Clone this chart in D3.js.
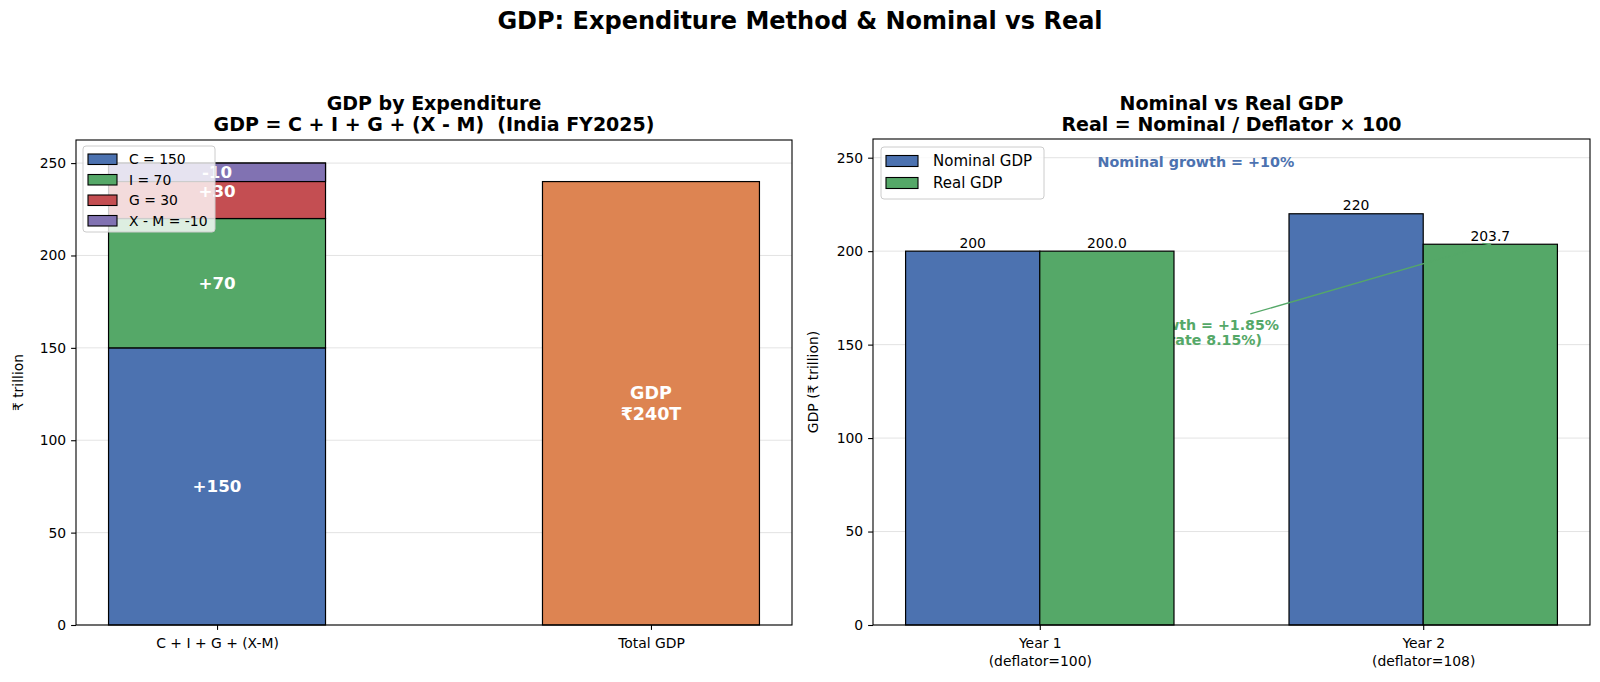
<!DOCTYPE html>
<html><head><meta charset="utf-8">
<script src="https://cdn.jsdelivr.net/npm/d3@7"></script>
<style>
body{margin:0;background:#fff}
svg{display:block;font-family:"DejaVu Sans",sans-serif}
</style>
</head><body>
<svg id="c" width="1600" height="682"></svg>
<script>
// ---------- data ----------
const expCategories = ["C + I + G + (X-M)", "Total GDP"];
const components = ["C", "I", "G", "X - M"];
const componentValues = [150, 70, 30, -10];
const componentLegend = ["C = 150", "I = 70", "G = 30", "X - M = -10"];
const totalGDP = 240;
const totalLabel = ["GDP", "₹240T"];
const leftTicks = [0, 50, 100, 150, 200, 250];

const years = [["Year 1", "(deflator=100)"], ["Year 2", "(deflator=108)"]];
const nominalGDP = [200, 220];
const realGDP = [200.0, 203.7];
const seriesNames = ["Nominal GDP", "Real GDP"];
const rightTicks = [0, 50, 100, 150, 200, 250];
const nominalNote = "Nominal growth = +10%";
const realNote = ["Real growth = +1.85%", "(inflation rate 8.15%)"];

// ---------- styles ----------
const BLUE = "#4c72b0", GREEN = "#55a868", RED = "#c44e52", PURPLE = "#8172b2", ORANGE = "#dd8452";
const compColors = [BLUE, GREEN, RED, PURPLE];

const svg = d3.select("#c");

svg.append("text").attr("x", 800).attr("y", 29).attr("text-anchor", "middle")
  .attr("font-size", 24).attr("font-weight", "bold").text("GDP: Expenditure Method & Nominal vs Real");

function axesFrame(g, x0, x1, y0, y1) {
  g.append("rect").attr("x", x0).attr("y", y0).attr("width", x1 - x0).attr("height", y1 - y0)
    .attr("fill", "none").attr("stroke", "#000").attr("stroke-width", 1.1);
}
function grid(g, ys, yScale, x0, x1) {
  g.append("g").selectAll("line").data(ys).join("line")
    .attr("x1", x0).attr("x2", x1).attr("y1", d => yScale(d)).attr("y2", d => yScale(d))
    .attr("stroke", "#b0b0b0").attr("stroke-opacity", 0.35).attr("stroke-width", 1);
}
function yAxis(g, yScale, ticks, x) {
  const a = g.append("g").attr("transform", `translate(${x},0)`)
    .call(d3.axisLeft(yScale).tickValues(ticks).tickSize(4.9).tickPadding(4.9).tickFormat(d3.format("d")));
  a.select(".domain").remove();
  a.selectAll("text").attr("font-size", 13.9).attr("fill", "#000").style("font-family", "DejaVu Sans");
  a.selectAll("line").attr("stroke", "#000").attr("stroke-width", 1.1);
}
function legend(g, x, y, w, h, items, fs, pitch, pw, ph, tx) {
  const lg = g.append("g");
  lg.append("rect").attr("x", x).attr("y", y).attr("width", w).attr("height", h).attr("rx", 3)
    .attr("fill", "#fff").attr("fill-opacity", 0.8).attr("stroke", "#cccccc").attr("stroke-width", 1);
  items.forEach((it, i) => {
    const cy = y + pitch * 0.5 + 2 + i * pitch + 1;
    lg.append("rect").attr("x", x + 5).attr("y", cy - ph / 2).attr("width", pw).attr("height", ph)
      .attr("fill", it.color).attr("stroke", "#000").attr("stroke-width", 1.1);
    lg.append("text").attr("x", x + tx).attr("y", cy).attr("dy", "0.35em").attr("font-size", fs).text(it.label);
  });
}

// ---------- left chart ----------
{
  const X0 = 76, X1 = 792, Y0 = 140, Y1 = 625;
  const g = svg.append("g");
  const x = d3.scaleLinear().domain([-0.325, 1.325]).range([X0, X1]);
  const y = d3.scaleLinear().domain([0, 262.5]).range([Y1, Y0]);
  const bw = 0.5;
  grid(g, leftTicks, y, X0, X1);

  let bottom = 0;
  const segs = componentValues.map((v, i) => {
    const s = { name: components[i], v, b: bottom, color: compColors[i] };
    bottom += v;
    return s;
  });
  g.append("g").selectAll("rect").data(segs).join("rect")
    .attr("x", x(0 - bw / 2)).attr("width", x(bw / 2) - x(-bw / 2))
    .attr("y", d => y(Math.max(d.b, d.b + d.v)))
    .attr("height", d => Math.abs(y(d.b) - y(d.b + d.v)))
    .attr("fill", d => d.color).attr("stroke", "#000").attr("stroke-width", 1.2);
  g.append("g").selectAll("text").data(segs).join("text")
    .attr("x", x(0)).attr("y", d => y(d.b + d.v / 2)).attr("dy", "0.36em")
    .attr("text-anchor", "middle").attr("fill", "#fff").attr("font-weight", "bold").attr("font-size", 16.7)
    .text(d => (d.v > 0 ? "+" : "") + d.v);

  g.append("rect").attr("x", x(1 - bw / 2)).attr("width", x(bw / 2) - x(-bw / 2))
    .attr("y", y(totalGDP)).attr("height", y(0) - y(totalGDP))
    .attr("fill", ORANGE).attr("stroke", "#000").attr("stroke-width", 1.2);
  const tl = g.append("text").attr("x", x(1)).attr("text-anchor", "middle").attr("fill", "#fff")
    .attr("font-weight", "bold").attr("font-size", 17.5);
  totalLabel.forEach((t, i) => tl.append("tspan").attr("x", x(1)).attr("y", y(totalGDP / 2) + (i - 0.5) * 21 + 6.5).text(t));

  yAxis(g, y, leftTicks, X0);
  const xa = g.append("g").attr("transform", `translate(0,${Y1})`)
    .call(d3.axisBottom(x).tickValues([0, 1]).tickSize(4.9).tickPadding(8).tickFormat(i => expCategories[i]));
  xa.select(".domain").remove();
  xa.selectAll("text").attr("font-size", 13.9).attr("fill", "#000").style("font-family", "DejaVu Sans");
  xa.selectAll("line").attr("stroke", "#000").attr("stroke-width", 1.1);

  g.append("text").attr("transform", `translate(18,${(Y0 + Y1) / 2}) rotate(-90)`).attr("dy", "0.35em")
    .attr("text-anchor", "middle").attr("font-size", 13.9).text("₹ trillion");

  const t = g.append("text").attr("text-anchor", "middle").attr("font-weight", "bold").attr("font-size", 19);
  t.append("tspan").attr("x", (X0 + X1) / 2).attr("y", 110).text("GDP by Expenditure");
  t.append("tspan").attr("x", (X0 + X1) / 2).attr("y", 131).attr("xml:space", "preserve").text("GDP = C + I + G + (X - M)  (India FY2025)");

  legend(g, 83, 146, 132, 86, componentLegend.map((l, i) => ({ label: l, color: compColors[i] })),
    13.9, 20.5, 29, 10.5, 46);
  axesFrame(g, X0, X1, Y0, Y1);
}

// ---------- right chart ----------
{
  const X0 = 873, X1 = 1590, Y0 = 139, Y1 = 625;
  const g = svg.append("g");
  const x = d3.scaleLinear().domain([-0.435, 1.435]).range([X0, X1]);
  const y = d3.scaleLinear().domain([0, 260]).range([Y1, Y0]);
  const w = 0.35;
  grid(g, rightTicks, y, X0, X1);
  const idx = years.map((_, i) => i);

  g.append("g").selectAll("rect").data(idx).join("rect")
    .attr("x", i => x(i - w)).attr("width", x(w) - x(0))
    .attr("y", i => y(nominalGDP[i])).attr("height", i => y(0) - y(nominalGDP[i]))
    .attr("fill", BLUE).attr("stroke", "#000").attr("stroke-width", 1.2);

  // annotation text (partly hidden behind the Year 1 real bar)
  const ann = g.append("text").attr("fill", GREEN).attr("font-weight", "bold").attr("font-size", 14.2).attr("text-anchor", "end");
  ann.append("tspan").attr("x", x(0.624)).attr("y", y(160.5)).attr("dy", "0.36em").text(realNote[0]);
  ann.append("tspan").attr("x", x(0.5795)).attr("y", y(152.5)).attr("dy", "0.36em").text(realNote[1]);

  g.append("g").selectAll("rect").data(idx).join("rect")
    .attr("x", i => x(i)).attr("width", x(w) - x(0))
    .attr("y", i => y(realGDP[i])).attr("height", i => y(0) - y(realGDP[i]))
    .attr("fill", GREEN).attr("stroke", "#000").attr("stroke-width", 1.2);

  // arrow
  const sx = x(0.549), sy = y(166.4), ex = x(1 + w / 2), ey = y(realGDP[1]);
  g.append("line").attr("x1", sx).attr("y1", sy).attr("x2", ex).attr("y2", ey)
    .attr("stroke", GREEN).attr("stroke-width", 1.3);
  const ang = Math.atan2(ey - sy, ex - sx);
  const hl = 8;
  g.append("path").attr("d",
    `M${ex - hl * Math.cos(ang - 0.4)},${ey - hl * Math.sin(ang - 0.4)}L${ex},${ey}L${ex - hl * Math.cos(ang + 0.4)},${ey - hl * Math.sin(ang + 0.4)}`)
    .attr("fill", "none").attr("stroke", GREEN).attr("stroke-width", 1.3);

  g.append("g").selectAll("text").data(idx).join("text")
    .attr("x", i => x(i - w / 2)).attr("y", i => y(nominalGDP[i]) - 3.5).attr("text-anchor", "middle")
    .attr("font-size", 13.9).text(i => String(nominalGDP[i]));
  g.append("g").selectAll("text").data(idx).join("text")
    .attr("x", i => x(i + w / 2)).attr("y", i => y(realGDP[i]) - 3.5).attr("text-anchor", "middle")
    .attr("font-size", 13.9).text(i => realGDP[i].toFixed(1));

  g.append("text").attr("x", x(0.407)).attr("y", y(247.7)).attr("dy", "0.36em").attr("text-anchor", "middle")
    .attr("fill", BLUE).attr("font-weight", "bold").attr("font-size", 14.3).text(nominalNote);

  yAxis(g, y, rightTicks, X0);
  const xa = g.append("g").attr("transform", `translate(0,${Y1})`)
    .call(d3.axisBottom(x).tickValues([0, 1]).tickSize(4.9).tickPadding(8).tickFormat(() => ""));
  xa.select(".domain").remove();
  xa.selectAll("line").attr("stroke", "#000").attr("stroke-width", 1.1);
  xa.selectAll(".tick").each(function (i) {
    const tt = d3.select(this).select("text").text(null).attr("font-size", 13.9).attr("fill", "#000")
      .style("font-family", "DejaVu Sans");
    years[i].forEach((line, k) => tt.append("tspan").attr("x", 0).attr("dy", k === 0 ? "0.71em" : "1.3em").text(line));
  });

  g.append("text").attr("transform", `translate(813,${(Y0 + Y1) / 2}) rotate(-90)`).attr("dy", "0.35em")
    .attr("text-anchor", "middle").attr("font-size", 13.9).text("GDP (₹ trillion)");

  const t = g.append("text").attr("text-anchor", "middle").attr("font-weight", "bold").attr("font-size", 19);
  t.append("tspan").attr("x", (X0 + X1) / 2).attr("y", 110).text("Nominal vs Real GDP");
  t.append("tspan").attr("x", (X0 + X1) / 2).attr("y", 131).text("Real = Nominal / Deflator × 100");

  legend(g, 881, 147, 163, 52, seriesNames.map((l, i) => ({ label: l, color: [BLUE, GREEN][i] })),
    15, 22, 32, 11, 52);
  axesFrame(g, X0, X1, Y0, Y1);
}
</script>
</body></html>
